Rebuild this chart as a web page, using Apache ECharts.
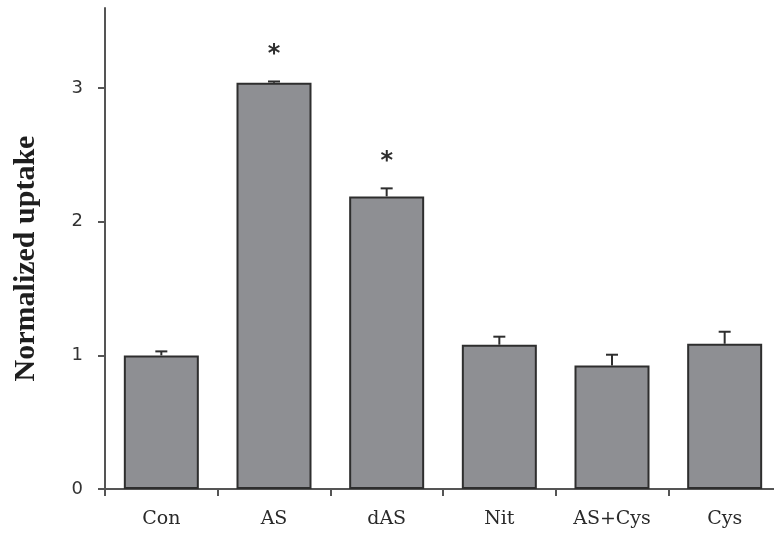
<!DOCTYPE html>
<html>
<head>
<meta charset="utf-8">
<script src="https://cdn.jsdelivr.net/npm/echarts@6/dist/echarts.min.js"></script>
<style>
  html, body { margin: 0; padding: 0; background: #fff; }
  #chart { width: 774px; height: 540px; }
</style>
</head>
<body>
<div id="chart"></div>
<script>
// Treatment groups and measured uptake (normalized to control)
const categories = ['Con', 'AS', 'dAS', 'Nit', 'AS+Cys', 'Cys'];
const uptake = [1.00, 3.04, 2.19, 1.08, 0.925, 1.087];
const errors = [0.03, 0.01, 0.06, 0.06, 0.08, 0.09];
const significance = ['', '*', '*', '', '', ''];
const yTicks = [0, 1, 2, 3];

const chart = echarts.init(document.getElementById('chart'));

const errorData = categories.map((c, i) => [i, uptake[i], uptake[i] + errors[i], significance[i]]);

chart.setOption({
  animation: false,
  grid: { left: 105, width: 676, top: 8, bottom: 51, outerBoundsMode: 'none', containLabel: false },
  xAxis: {
    type: 'category',
    data: categories,
    axisLine: { lineStyle: { color: '#555', width: 2 } },
    axisTick: { show: true, inside: false, length: 7, lineStyle: { color: '#555', width: 2 } },
    axisLabel: { color: '#2a2a2a', fontFamily: 'DejaVu Serif', fontSize: 19, margin: 21 }
  },
  yAxis: {
    type: 'value',
    min: 0,
    max: 3.6,
    interval: 1,
    name: 'Normalized uptake',
    nameLocation: 'middle',
    nameGap: 64,
    nameTextStyle: {
      color: '#1e1e1e', fontFamily: 'Liberation Serif', fontWeight: 'bold', fontSize: 30,
      padding: [0, 20, 0, 0]
    },
    splitLine: { show: false },
    axisLine: { show: true, lineStyle: { color: '#555', width: 2 } },
    axisTick: { show: true, length: 7, customValues: yTicks, lineStyle: { color: '#555', width: 2 } },
    axisLabel: { customValues: yTicks, color: '#333', fontFamily: 'DejaVu Sans', fontSize: 18, margin: 22 }
  },
  series: [
    {
      type: 'bar',
      data: uptake,
      barWidth: 75,
      itemStyle: { color: '#8e8f93', borderColor: '#2e2e2e', borderWidth: 2 },
      z: 2
    },
    {
      type: 'custom',
      data: errorData,
      z: 3,
      renderItem: function (params, api) {
        const x = api.coord([api.value(0), api.value(1)])[0];
        const yBase = api.coord([api.value(0), api.value(1)])[1];
        const yTop = api.coord([api.value(0), api.value(2)])[1];
        const mark = api.value(3);
        const style = { stroke: '#2e2e2e', lineWidth: 2 };
        const children = [
          { type: 'line', shape: { x1: x, y1: yBase, x2: x, y2: yTop }, style: style },
          { type: 'line', shape: { x1: x - 6, y1: yTop, x2: x + 6, y2: yTop }, style: style }
        ];
        if (mark) {
          children.push({
            type: 'text',
            style: {
              text: mark, x: x, y: yTop - 27,
              align: 'center', verticalAlign: 'middle',
              fill: '#2e2e2e', font: 'bold 24px DejaVu Sans'
            }
          });
        }
        return { type: 'group', children: children };
      }
    }
  ]
});
</script>
</body>
</html>
